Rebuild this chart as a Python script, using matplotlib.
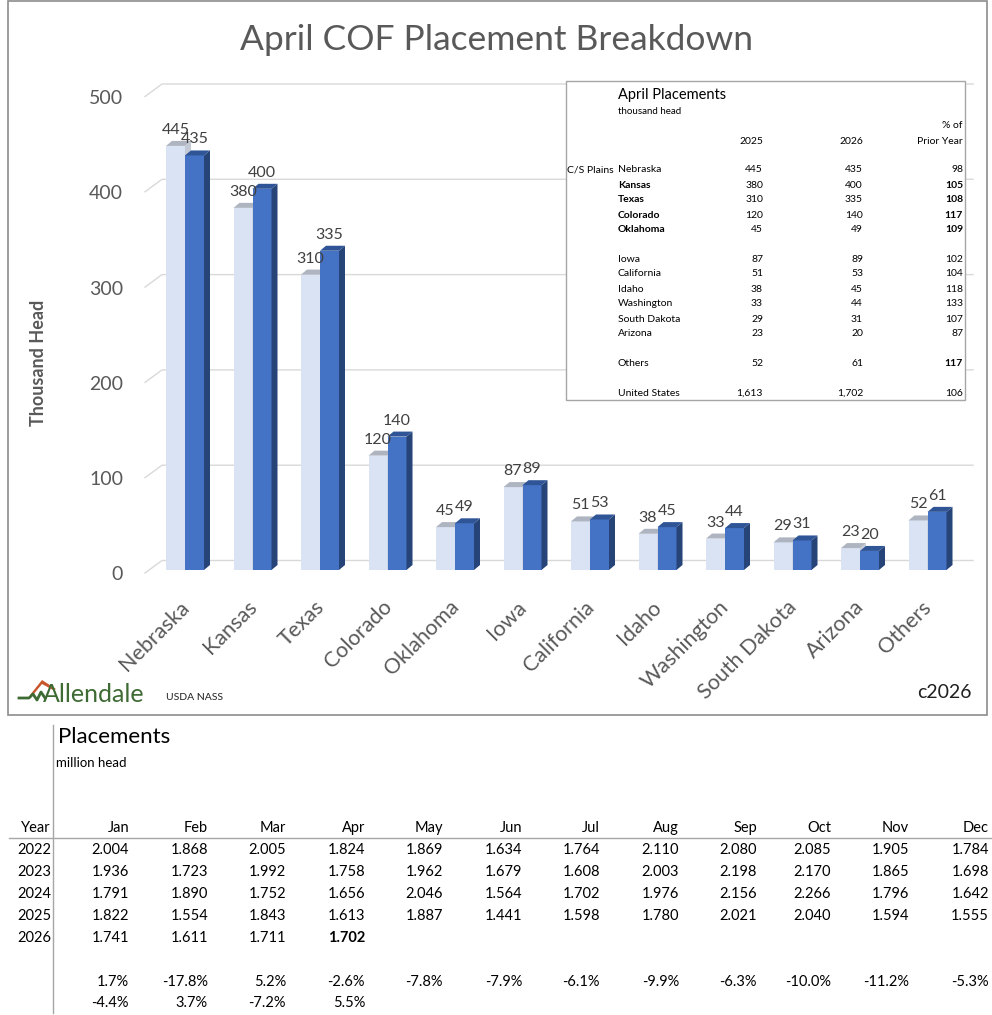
import numpy as np
import matplotlib.pyplot as plt
from matplotlib.patches import Polygon, Rectangle
from matplotlib.lines import Line2D

plt.rcParams['font.family'] = ['Lato', 'DejaVu Sans']

# ---- data ----
states = ['Nebraska', 'Kansas', 'Texas', 'Colorado', 'Oklahoma', 'Iowa',
          'California', 'Idaho', 'Washington', 'South Dakota', 'Arizona', 'Others']
head_2025 = [445, 380, 310, 120, 45, 87, 51, 38, 33, 29, 23, 52]
head_2026 = [435, 400, 335, 140, 49, 89, 53, 45, 44, 31, 20, 61]
pct_prior = [98, 105, 108, 117, 109, 102, 104, 118, 133, 107, 87, 117]
bold_state = [False, True, True, True, True, False, False, False, False, False, False, False]
bold_pct = [False, True, True, True, True, False, False, False, False, False, False, True]
us_total = ['1,613', '1,702', '106']
yticks = [0, 100, 200, 300, 400, 500]

months = ['Jan', 'Feb', 'Mar', 'Apr', 'May', 'Jun', 'Jul', 'Aug', 'Sep', 'Oct', 'Nov', 'Dec']
years = ['2022', '2023', '2024', '2025', '2026']
pl_2022 = ['2.004', '1.868', '2.005', '1.824', '1.869', '1.634', '1.764', '2.110', '2.080', '2.085', '1.905', '1.784']
pl_2023 = ['1.936', '1.723', '1.992', '1.758', '1.962', '1.679', '1.608', '2.003', '2.198', '2.170', '1.865', '1.698']
pl_2024 = ['1.791', '1.890', '1.752', '1.656', '2.046', '1.564', '1.702', '1.976', '2.156', '2.266', '1.796', '1.642']
pl_2025 = ['1.822', '1.554', '1.843', '1.613', '1.887', '1.441', '1.598', '1.780', '2.021', '2.040', '1.594', '1.555']
pl_2026 = ['1.741', '1.611', '1.711', '1.702']
chg_a = ['1.7%', '-17.8%', '5.2%', '-2.6%', '-7.8%', '-7.9%', '-6.1%', '-9.9%', '-6.3%', '-10.0%', '-11.2%', '-5.3%']
chg_b = ['-4.4%', '3.7%', '-7.2%', '5.5%']

# ---- figure in pixel terms ----
W, H = 992, 1015
fig = plt.figure(figsize=(W / 100, H / 100), dpi=100)

def fx(px):
    return px / W

def fy(py):
    return 1 - py / H

# chart frame
fig.patches.append(Rectangle((fx(8), fy(715)), 979 / W, 714 / H, transform=fig.transFigure,
                             fc='none', ec='#8C8C8C', lw=1.2, zorder=1))

SX = 67.5   # px per category
SY = 0.953  # px per thousand head
ax = fig.add_axes([fx(100), fy(640), 885 / W, 580 / H])
ax.set_xlim(-85 / SX, 800 / SX)
ax.set_ylim(-70 / SY, 510 / SY)
ax.axis('off')

# back-wall gridlines with a little 3d floor diagonal
for v in yticks:
    ax.plot([-40 / SX, -23 / SX, 788 / SX], [v - 3 / SY, v + 9.5 / SY, v + 9.5 / SY],
            color='#D9D9D9', lw=1, zorder=1)
    ax.text(-62 / SX, v - 5 / SY, str(v), ha='right', va='center', fontsize=14, color='#595959')

bw = 19 / SX
ddx = 6 / SX
ddy = 5 / SY
x = np.arange(len(states))

ax.bar(x - bw / 2, head_2025, width=bw, color='#DAE3F3', zorder=2)
ax.bar(x + bw / 2, head_2026, width=bw, color='#4472C4', zorder=4)
for i in x:
    a, b = head_2025[i], head_2026[i]
    ax.add_patch(Polygon([(i, 0), (i + ddx, ddy), (i + ddx, a + ddy), (i, a)], closed=True,
                         fc='#C3CAD6', ec='none', zorder=2))
    ax.add_patch(Polygon([(i - bw, a), (i, a), (i + ddx, a + ddy), (i - bw + ddx, a + ddy)],
                         closed=True, fc='#AEB5C1', ec='none', zorder=2))
    ax.add_patch(Polygon([(i + bw, 0), (i + bw + ddx, ddy), (i + bw + ddx, b + ddy), (i + bw, b)],
                         closed=True, fc='#264478', ec='none', zorder=4))
    ax.add_patch(Polygon([(i, b), (i + bw, b), (i + bw + ddx, b + ddy), (i + ddx, b + ddy)],
                         closed=True, fc='#2F5597', ec='none', zorder=4))
    ax.text(i - bw / 2, a + 16 / SY, str(a), ha='center', va='center', fontsize=11.5,
            color='#404040', zorder=6)
    ax.text(i + bw / 2, b + 16 / SY, str(b), ha='center', va='center', fontsize=11.5,
            color='#404040', zorder=6)
    ax.text(i + 1 / SX, -34 / SY, states[i], rotation=45, ha='right', va='center',
            rotation_mode='anchor', fontsize=15.5, color='#595959')

fig.text(fx(496), fy(40), 'April COF Placement Breakdown', ha='center', va='center',
         fontsize=25.5, color='#595959')
fig.text(fx(38), fy(363), 'Thousand Head', rotation=90, ha='center', va='center',
         fontsize=13, fontweight='bold', color='#595959')

# logo + source
fig.lines.append(Line2D([fx(19), fx(29), fx(33), fx(37), fx(41), fx(45)],
                        [fy(698), fy(698), fy(694), fy(700), fy(692), fy(698)],
                        transform=fig.transFigure, color='#3E6B34', lw=2))
fig.patches.append(Polygon([(fx(30), fy(695)), (fx(42), fy(680)), (fx(56), fy(689)),
                            (fx(53), fy(690)), (fx(42), fy(684)), (fx(33), fy(695))],
                           closed=True, transform=fig.transFigure, fc='#C8562B', ec='none'))
fig.text(fx(43), fy(695), 'Allendale', ha='left', va='center', fontsize=18, color='#3E6B34')
fig.text(fx(166), fy(697), 'USDA NASS', ha='left', va='center', fontsize=7.5, color='#202020')
fig.text(fx(972), fy(692), 'c2026', ha='right', va='center', fontsize=14, color='#202020')

# ---- inset table ----
fig.patches.append(Rectangle((fx(566), fy(400)), 399 / W, 319 / H, transform=fig.transFigure,
                             fc='white', ec='#A6A6A6', lw=1, zorder=5))
ts = 7.5
fig.text(fx(618), fy(95), 'April Placements', fontsize=10.5, va='center', zorder=6)
fig.text(fx(618), fy(112), 'thousand head', fontsize=7, va='center', zorder=6)
fig.text(fx(963), fy(126), '% of', fontsize=ts, ha='right', va='center', zorder=6)
fig.text(fx(763), fy(141), '2025', fontsize=ts, ha='right', va='center', zorder=6)
fig.text(fx(863), fy(141), '2026', fontsize=ts, ha='right', va='center', zorder=6)
fig.text(fx(963), fy(141), 'Prior Year', fontsize=ts, ha='right', va='center', zorder=6)
fig.text(fx(567), fy(170), 'C/S Plains', fontsize=ts, va='center', zorder=6)
row_y = [170, 185, 200, 215, 230, 260, 274, 289, 304, 319, 334, 363]
for k, s in enumerate(states):
    y = fy(row_y[k])
    fig.text(fx(618), y, s, fontsize=ts, va='center', zorder=6,
             fontweight='bold' if bold_state[k] else 'normal')
    fig.text(fx(763), y, str(head_2025[k]), fontsize=ts, ha='right', va='center', zorder=6)
    fig.text(fx(863), y, str(head_2026[k]), fontsize=ts, ha='right', va='center', zorder=6)
    fig.text(fx(963), y, str(pct_prior[k]), fontsize=ts, ha='right', va='center', zorder=6,
             fontweight='bold' if bold_pct[k] else 'normal')
fig.text(fx(618), fy(393), 'United States', fontsize=ts, va='center', zorder=6)
for xx, t in zip([763, 863, 963], us_total):
    fig.text(fx(xx), fy(393), t, fontsize=ts, ha='right', va='center', zorder=6)

# ---- bottom table ----
fig.lines.append(Line2D([fx(53), fx(53)], [fy(725), fy(1013)], transform=fig.transFigure,
                        color='#A6A6A6', lw=1))
fig.lines.append(Line2D([fx(9), fx(992)], [fy(838), fy(838)], transform=fig.transFigure,
                        color='#A6A6A6', lw=1))
fig.text(fx(58), fy(737), 'Placements', fontsize=16, va='center')
fig.text(fx(56), fy(763), 'million head', fontsize=9.5, va='center')
bs = 10.5
col_x = [129, 208, 286, 365, 443, 522, 600, 679, 757, 831, 909, 989]
fig.text(fx(51), fy(828), 'Year', fontsize=bs, ha='right', va='center')
for cx, m in zip(col_x, months):
    fig.text(fx(cx), fy(828), m, fontsize=bs, ha='right', va='center')
rows = [pl_2022, pl_2023, pl_2024, pl_2025, pl_2026]
ry = [850, 872, 894, 916, 938]
for yr, vals, yy in zip(years, rows, ry):
    fig.text(fx(51), fy(yy), yr, fontsize=bs, ha='right', va='center')
    for j, t in enumerate(vals):
        wt = 'bold' if (yr == '2026' and j == len(vals) - 1) else 'normal'
        fig.text(fx(col_x[j]), fy(yy), t, fontsize=bs, ha='right', va='center', fontweight=wt)
for j, t in enumerate(chg_a):
    fig.text(fx(col_x[j]), fy(982), t, fontsize=bs, ha='right', va='center')
for j, t in enumerate(chg_b):
    fig.text(fx(col_x[j]), fy(1003), t, fontsize=bs, ha='right', va='center')

fig.savefig('out.png', dpi=100)
